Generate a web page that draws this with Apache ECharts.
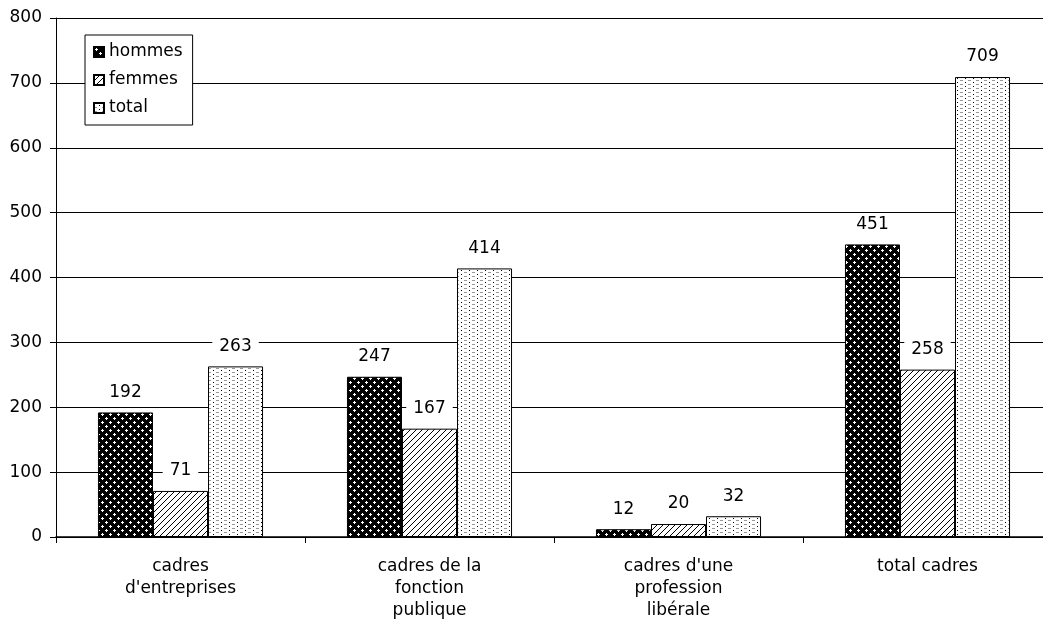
<!DOCTYPE html>
<html><head><meta charset="utf-8">
<script src="https://cdn.jsdelivr.net/npm/echarts@6/dist/echarts.min.js"></script>
<style>html,body{margin:0;padding:0;background:#fff;overflow:hidden}#wrap{width:1043px;height:624px;overflow:hidden}#c{width:1052px;height:624px}</style>
</head><body><div id="wrap"><div id="c"></div></div>
<script>
const categories = ["cadres\nd'entreprises", "cadres de la\nfonction\npublique", "cadres d'une\nprofession\nlibérale", "total cadres"];
const hommes = [192, 247, 12, 451];
const femmes = [71, 167, 20, 258];
const total = [263, 414, 32, 709];
const yTicks = [0, 100, 200, 300, 400, 500, 600, 700, 800];

function makeTile(w, h, draw) {
  const c = document.createElement('canvas');
  c.width = w; c.height = h;
  const g = c.getContext('2d');
  draw(g);
  return c;
}
const patHommes = makeTile(8, 8, g => {
  g.fillStyle = '#000'; g.fillRect(0, 0, 8, 8);
  g.fillStyle = '#fff';
  const plus = (x, y) => { g.fillRect(x, y - 1, 1, 3); g.fillRect(x - 1, y, 3, 1); };
  plus(2, 2); plus(6, 6);
});
const patFemmes = makeTile(6, 6, g => {
  g.fillStyle = '#fff'; g.fillRect(0, 0, 6, 6);
  g.strokeStyle = '#000'; g.lineWidth = 1;
  for (let k = -1; k <= 1; k++) {
    g.beginPath(); g.moveTo(k * 6 - 1, 7); g.lineTo(k * 6 + 7, -1); g.stroke();
  }
});
const patTotal = makeTile(8, 4, g => {
  g.fillStyle = '#fff'; g.fillRect(0, 0, 8, 4);
  g.fillStyle = '#999'; g.fillRect(0, 0, 3, 1);
  g.fillStyle = '#000'; g.fillRect(5, 2, 1, 1);
});

const font = 'DejaVu Sans, sans-serif';
const labelCfg = {
  show: true, position: 'top', distance: 11,
  color: '#000', fontSize: 17, fontFamily: font, lineHeight: 18,
  backgroundColor: '#fff', padding: [0, 7]
};
function mk(name, data, pat) {
  return {
    name, type: 'bar', data,
    barGap: '0%', barCategoryGap: '33.7%',
    itemStyle: { color: { image: pat, repeat: 'repeat' }, borderColor: '#000', borderWidth: 1 },
    label: labelCfg,
    emphasis: { disabled: true }
  };
}
const chart = echarts.init(document.getElementById('c'));
chart.setOption({
  animation: false,
  backgroundColor: '#fff',
  grid: { left: 56, top: 18, right: 0, height: 519, containLabel: false },
  legend: {
    orient: 'vertical', left: 85, top: 35,
    padding: [8, 10, 8, 8], itemGap: 10,
    itemWidth: 10, itemHeight: 10, icon: 'rect',
    backgroundColor: '#fff', borderColor: '#000', borderWidth: 1,
    textStyle: { fontSize: 17, fontFamily: font, color: '#000', lineHeight: 18, padding: [0, 0, 0, 0] },
    data: ['hommes', 'femmes', 'total']
  },
  xAxis: {
    type: 'category', data: categories,
    axisLine: { lineStyle: { color: '#000', width: 1.5 } },
    axisTick: { show: true, length: 6, lineStyle: { color: '#000' } },
    axisLabel: { color: '#000', fontSize: 17, fontFamily: font, lineHeight: 22, margin: 19, interval: 0 }
  },
  yAxis: {
    type: 'value', min: 0, max: 800, interval: 100,
    axisLine: { show: true, lineStyle: { color: '#000' } },
    axisTick: { show: true, length: 6, lineStyle: { color: '#000' } },
    axisLabel: { color: '#000', fontSize: 17, fontFamily: font, margin: 14,
      formatter: v => yTicks.includes(v) ? String(v) : '' },
    splitLine: { show: true, lineStyle: { color: '#000', width: 1 } }
  },
  series: [mk('hommes', hommes, patHommes), mk('femmes', femmes, patFemmes), mk('total', total, patTotal)]
});
</script></body></html>
